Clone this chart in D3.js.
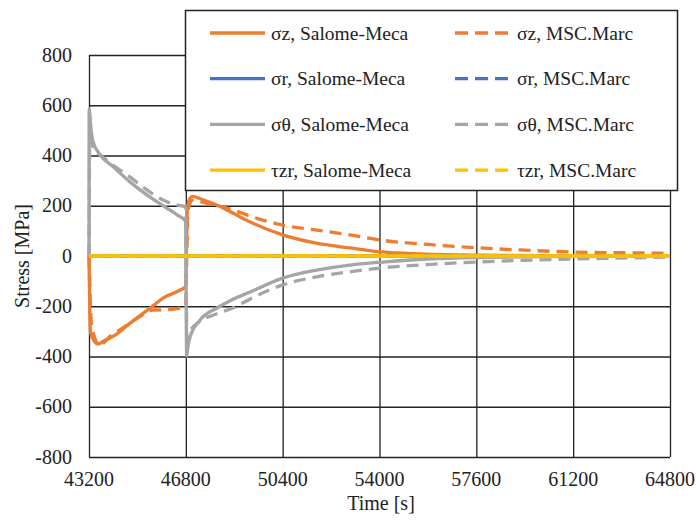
<html>
<head>
  <title>Stress vs Time</title>
  <script src="https://d3js.org/d3.v7.min.js"></script>
  <style>
    body { margin: 0; background: #fff; }
    svg text { font-family: "Liberation Serif", "DejaVu Serif", "Noto Serif", "Times New Roman", Times, serif; fill: #222; }
    .tick-label { font-size: 20px; }
    .axis-label { font-size: 20px; text-anchor: middle; }
    .legend-text { font-size: 19.5px; }
    .grid line { stroke: #222; stroke-width: 1.3; }
  </style>
</head>
<body>
  <svg id="chart" width="696" height="521"></svg>
  <script>
    const serifFont = "Liberation Serif, DejaVu Serif, serif";

    // tick values
    const xTicks = [43200, 46800, 50400, 54000, 57600, 61200, 64800];
    const yTicks = [800, 600, 400, 200, 0, -200, -400, -600, -800];

    // sigma z, Salome-Meca
    const szSalomeT = [43200, 43250, 43400, 43530, 43800, 44200, 44600, 45000, 45500, 46000, 46500, 46790, 46860, 46950, 47050, 47400, 47950, 48600, 49200, 50400, 51600, 52900, 54100, 55500, 57600, 61200, 64800];
    const szSalomeV = [0, -300, -340, -350, -335, -313, -278, -245, -205, -165, -140, -122, 195, 228, 237, 225, 203, 168, 135, 84, 52, 32, 16, 8, 3, 1, 0];
    // sigma z, MSC.Marc
    const szMarcT = [43200, 43300, 43600, 44000, 44450, 45000, 45600, 46200, 46600, 46790, 46880, 47070, 47400, 48500, 49500, 50400, 51600, 52900, 54000, 55800, 57600, 59400, 61200, 63000, 64800];
    const szMarcV = [0, -280, -355, -318, -287, -247, -215, -213, -207, -197, 185, 223, 215, 185, 148, 123, 104, 84, 64, 46, 33, 23, 16, 13, 11];
    // sigma r (hidden under tau zr)
    const srSalomeT = [43200, 64800];
    const srSalomeV = [0, 0];
    const srMarcT = [43200, 64800];
    const srMarcV = [0, 0];
    // sigma theta, Salome-Meca
    const stSalomeT = [43200, 43205, 43280, 43350, 43600, 44100, 44700, 45350, 46100, 46500, 46790, 46830, 46880, 46960, 47330, 47960, 48500, 49190, 50400, 51660, 52900, 54130, 55800, 57600, 61200, 64800];
    const stSalomeV = [0, 585, 500, 455, 405, 355, 297, 243, 190, 162, 140, -398, -360, -322, -255, -207, -175, -143, -88, -56, -36, -24, -12, -6, -2, 0];
    // sigma theta, MSC.Marc
    const stMarcT = [43200, 43230, 43350, 43700, 44090, 44720, 45350, 45950, 46400, 46790, 46840, 46950, 47300, 47900, 48540, 49400, 50400, 51660, 52890, 54000, 55800, 57600, 59400, 61200, 63000, 64800];
    const stMarcV = [0, 465, 434, 395, 362, 315, 263, 223, 205, 195, -330, -300, -262, -232, -207, -160, -115, -83, -63, -48, -34, -24, -17, -12, -8, -4];
    // tau zr
    const tzSalomeT = [43200, 64800];
    const tzSalomeV = [0, 0];
    const tzMarcT = [43200, 64800];
    const tzMarcV = [0, 0];

    const seriesNames = ["σz, Salome-Meca", "σz, MSC.Marc", "σr, Salome-Meca", "σr, MSC.Marc",
                         "σθ, Salome-Meca", "σθ, MSC.Marc", "τzr, Salome-Meca", "τzr, MSC.Marc"];
    const seriesColors = ["#ED7D31", "#ED7D31", "#4472C4", "#4472C4", "#A5A5A5", "#A5A5A5", "#FFC000", "#FFC000"];
    const seriesDashed = [false, true, false, true, false, true, false, true];
    const seriesT = [szSalomeT, szMarcT, srSalomeT, srMarcT, stSalomeT, stMarcT, tzSalomeT, tzMarcT];
    const seriesV = [szSalomeV, szMarcV, srSalomeV, srMarcV, stSalomeV, stMarcV, tzSalomeV, tzMarcV];

    const svg = d3.select("svg#chart");
    const margin = { top: 55, right: 26, bottom: 64, left: 89 };
    const chartWidth = 696 - margin.left - margin.right;
    const chartHeight = 521 - margin.top - margin.bottom;

    const xScale = d3.scaleLinear().domain([43200, 64800]).range([0, chartWidth]);
    const yScale = d3.scaleLinear().domain([-800, 800]).range([chartHeight, 0]);

    const chartArea = svg.append("g")
      .attr("transform", "translate(" + margin.left + "," + margin.top + ")");

    // gridlines
    chartArea.append("g")
      .attr("class", "grid")
      .attr("transform", "translate(0," + chartHeight + ")")
      .call(d3.axisBottom(xScale).tickValues(xTicks).tickSize(-chartHeight).tickFormat(""))
      .call(g => g.select(".domain").remove());
    chartArea.append("g")
      .attr("class", "grid")
      .call(d3.axisLeft(yScale).tickValues(yTicks).tickSize(-chartWidth).tickFormat(""))
      .call(g => g.select(".domain").remove());

    // tick labels
    chartArea.selectAll(".xlab")
      .data(xTicks)
      .enter()
      .append("text")
      .attr("class", "tick-label")
      .attr("font-family", serifFont)
      .attr("x", d => xScale(d))
      .attr("y", chartHeight + 29)
      .attr("text-anchor", "middle")
      .text(d => d);
    chartArea.selectAll(".ylab")
      .data(yTicks)
      .enter()
      .append("text")
      .attr("class", "tick-label")
      .attr("font-family", serifFont)
      .attr("x", -17)
      .attr("y", d => yScale(d) + 6.5)
      .attr("text-anchor", "end")
      .text(d => d);

    // curves
    const line = d3.line()
      .x(d => xScale(d[0]))
      .y(d => yScale(d[1]))
      .curve(d3.curveMonotoneX);

    seriesNames.forEach((name, i) => {
      const pts = seriesT[i].map((t, j) => [t, seriesV[i][j]]);
      chartArea.append("path")
        .datum(pts)
        .attr("fill", "none")
        .attr("stroke", seriesColors[i])
        .attr("stroke-width", 3.3)
        .attr("stroke-dasharray", seriesDashed[i] ? "12,7" : null)
        .attr("d", line);
    });

    // axis labels
    svg.append("text")
      .attr("class", "axis-label")
      .attr("font-family", serifFont)
      .attr("x", 381)
      .attr("y", 510)
      .text("Time [s]");
    svg.append("text")
      .attr("class", "axis-label")
      .attr("font-family", serifFont)
      .attr("transform", "translate(29," + (margin.top + chartHeight / 2) + ") rotate(-90)")
      .text("Stress [MPa]");

    // legend
    const legend = svg.append("g").attr("class", "legendGroup");
    legend.append("rect")
      .attr("x", 185.5)
      .attr("y", 10.5)
      .attr("width", 492)
      .attr("height", 180)
      .attr("fill", "#fff")
      .attr("stroke", "#222")
      .attr("stroke-width", 1.5);

    const legendItems = legend.selectAll(".legendItem")
      .data(seriesNames)
      .enter()
      .append("g")
      .attr("class", "legendItem")
      .attr("transform", (d, i) => `translate(${i % 2 === 0 ? 210 : 455}, ${33 + Math.floor(i / 2) * 45.7})`);

    legendItems.append("line")
      .attr("x1", 0)
      .attr("x2", (d, i) => seriesDashed[i] ? 53 : 55)
      .attr("stroke", (d, i) => seriesColors[i])
      .attr("stroke-width", 3.3)
      .attr("stroke-dasharray", (d, i) => seriesDashed[i] ? "13,7" : null);

    legendItems.append("text")
      .attr("class", "legend-text")
      .attr("font-family", serifFont)
      .attr("x", (d, i) => seriesDashed[i] ? 62 : 61)
      .attr("y", 6.5)
      .text(d => d);
  </script>
</body>
</html>
